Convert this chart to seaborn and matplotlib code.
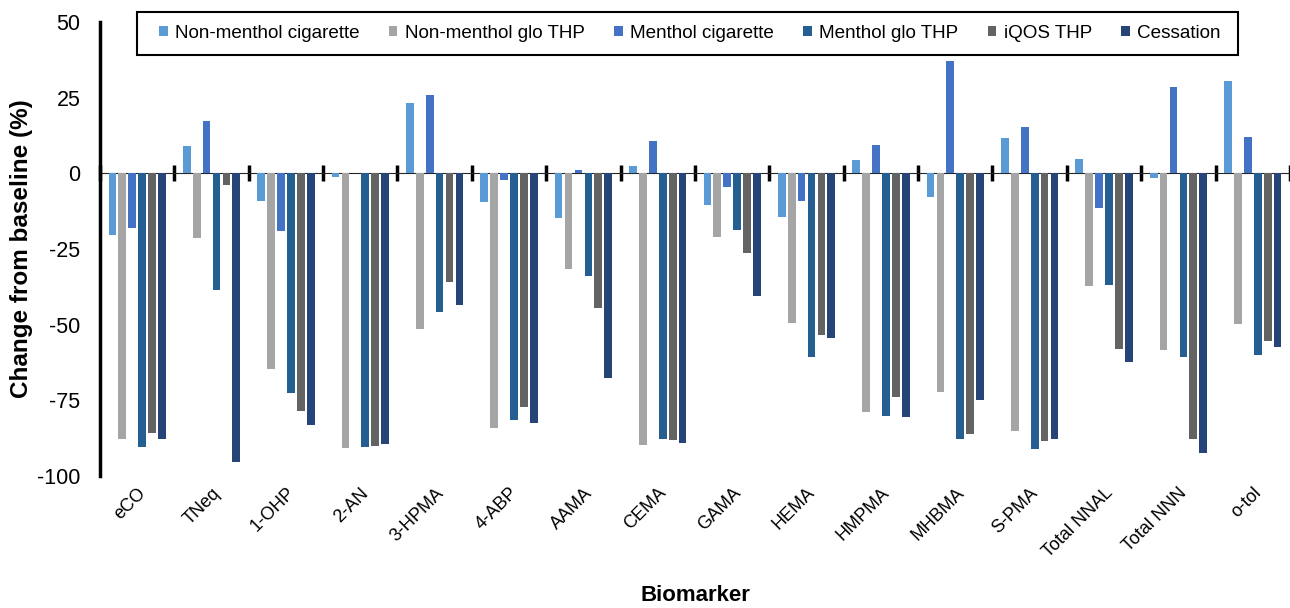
#Grouped bar chart: change from baseline per biomarker and product group
import numpy as np
import pandas as pd
import matplotlib.pyplot as plt
import matplotlib.patches as mpatches
import seaborn as sns

# ----- DATA -----
biomarkers = ["eCO", "TNeq", "1-OHP", "2-AN", "3-HPMA", "4-ABP", "AAMA", "CEMA",
              "GAMA", "HEMA", "HMPMA", "MHBMA", "S-PMA", "Total NNAL", "Total NNN", "o-tol"]

groups = ["Non-menthol cigarette", "Non-menthol glo THP", "Menthol cigarette",
          "Menthol glo THP", "iQOS THP", "Cessation"]

non_menthol_cig = [-20.4, 9.0, -9.1, -1.2, 23.1, -9.4, -14.8, 2.3,
                   -10.6, -14.3, 4.4, -7.8, 11.8, 4.7, -1.4, 30.4]
non_menthol_glo = [-87.8, -21.5, -64.8, -90.7, -51.5, -84.1, -31.7, -89.8,
                   -21.0, -49.6, -78.7, -72.4, -85.0, -37.2, -58.3, -49.7]
menthol_cig = [-18.2, 17.2, -19.1, np.nan, 26.0, -2.3, 1.0, 10.8,
               -4.4, -9.1, 9.4, 37.0, 15.3, -11.5, 28.4, 12.0]
menthol_glo = [-90.3, -38.5, -72.6, -90.3, -45.7, -81.5, -33.8, -87.9,
               -18.7, -60.8, -80.0, -87.7, -91.1, -37.0, -60.7, -59.9]
iqos = [-85.9, -4.0, -78.4, -90.1, -36.0, -77.1, -44.5, -88.1,
        -26.4, -53.3, -73.9, -86.0, -88.4, -57.9, -87.9, -55.4]
cessation = [-87.8, -95.2, -83.0, -89.4, -43.5, -82.4, -67.7, -89.2,
             -40.6, -54.3, -80.6, -74.8, -87.7, -62.2, -92.5, -57.5]

colors = ["#5B9BD5", "#A5A5A5", "#4472C4", "#255E91", "#636363", "#264478"]


def build_long_df():
    values = [non_menthol_cig, non_menthol_glo, menthol_cig, menthol_glo, iqos, cessation]
    rows = []
    for name, vals in zip(groups, values):
        for bm, v in zip(biomarkers, vals):
            rows.append({"Biomarker": bm, "Product": name, "Change": v})
    return pd.DataFrame(rows)


df = build_long_df()

sns.set_style("white")
plt.rcParams["font.family"] = ["Liberation Sans", "DejaVu Sans"]
plt.rcParams["axes.unicode_minus"] = False
plt.rcParams["text.color"] = "black"
plt.rcParams["axes.labelcolor"] = "black"
plt.rcParams["xtick.color"] = "black"
plt.rcParams["ytick.color"] = "black"

fig = plt.figure(figsize=(12.9, 6.08), dpi=100)
ax = fig.add_axes([0.0775, 0.217, 0.9225, 0.747])

sns.barplot(data=df, x="Biomarker", y="Change", hue="Product", order=biomarkers,
            hue_order=groups, palette=colors, saturation=1, width=0.8, gap=0.22,
            edgecolor="none", ax=ax)

ax.set_ylim(-100, 50)
ax.set_yticks(np.arange(-100, 51, 25))
ax.set_xlim(-0.5, len(biomarkers) - 0.5)

# Spines: only the left axis is shown, bottom axis replaced by the zero line
for side in ["top", "right", "bottom"]:
    ax.spines[side].set_visible(False)
ax.spines["left"].set_linewidth(2.5)
ax.spines["left"].set_color("black")
ax.tick_params(axis="y", direction="in", length=5, width=2.5, labelsize=15.5, pad=14)
ax.tick_params(axis="x", length=0, labelsize=13, pad=6)
plt.setp(ax.get_xticklabels(), rotation=45, ha="right", va="top", rotation_mode="anchor")

# Zero line with group separator ticks
zero = ax.secondary_xaxis(2 / 3)
zero.set_xticks(np.arange(-0.5, len(biomarkers), 1.0))
zero.set_xticklabels([])
zero.tick_params(direction="inout", length=12, width=2.5, color="black")
zero.spines["bottom"].set_linewidth(2.5)
zero.spines["bottom"].set_color("black")

ax.set_ylabel("Change from baseline (%)", fontsize=17.5, fontweight="bold", labelpad=3)
ax.set_xlabel("Biomarker", fontsize=16, fontweight="bold")
ax.xaxis.set_label_coords(0.5, -0.24)

# Legend across the top, framed by a box drawn in figure coords
handles, labels = ax.get_legend_handles_labels()
ax.legend(handles, labels, ncol=6, loc="center", bbox_to_anchor=(690 / 1290, 1 - 33.5 / 608),
          bbox_transform=fig.transFigure, frameon=False,
          fontsize=13.6, handlelength=0.45, handleheight=0.45, handletextpad=0.4,
          columnspacing=1.55, borderpad=0.2)
box = mpatches.Rectangle((137 / 1290, 1 - 55 / 608), (1238 - 137) / 1290, 43 / 608,
                         transform=fig.transFigure, fill=False, edgecolor="black",
                         linewidth=1.5, zorder=5)
fig.patches.append(box)

plt.savefig("out.png", dpi=100)
